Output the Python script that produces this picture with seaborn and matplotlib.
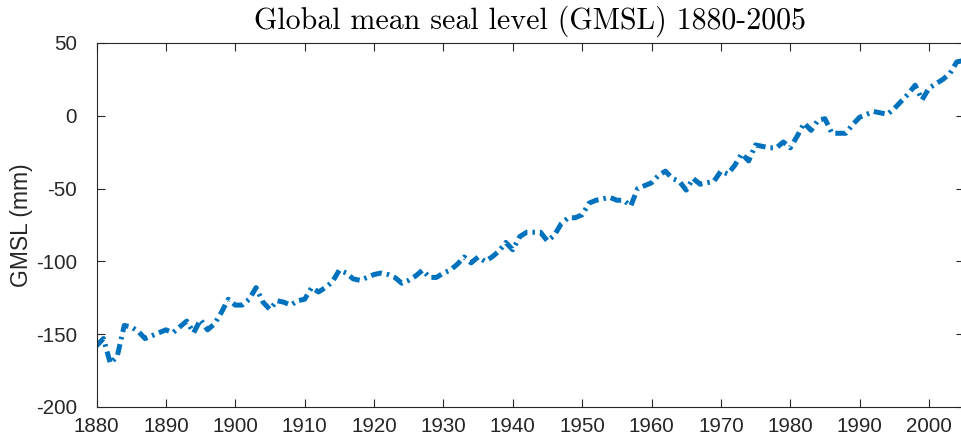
import numpy as np
import pandas as pd
import matplotlib
matplotlib.use("Agg")
import matplotlib.pyplot as plt
import seaborn as sns

# yearly GMSL values (mm)
years = np.arange(1880, 2006)
gmsl = [
    -158, -153, -170, -165, -144, -145, -148, -153, -151, -149,   # 1880s
    -147, -149, -145, -141, -149, -140, -147, -143, -135, -126,   # 1890s
    -130, -130, -126, -118, -128, -133, -127, -128, -130, -127,   # 1900s
    -126, -118, -121, -118, -114, -106, -108, -112, -113, -111,   # 1910s
    -109, -108, -109, -111, -115, -113, -110, -106, -111, -111,   # 1920s
    -108, -106, -102, -97, -101, -97, -100, -97, -93, -87,        # 1930s
    -92, -83, -80, -80, -80, -86, -82, -74, -70, -70,             # 1940s
    -68, -60, -58, -57, -56, -58, -58, -62, -50, -48,             # 1950s
    -46, -41, -38, -43, -45, -51, -43, -47, -46, -45,             # 1960s
    -38, -40, -34, -26, -31, -20, -21, -22, -22, -18,             # 1970s
    -22, -14, -5, -10, -3, -2, -12, -12, -12, -6,                 # 1980s
    -1, 1, 3, 2, 1, 5, 10, 15, 21, 11,                            # 1990s
    19, 22, 25, 29, 37, 38,                                       # 2000s
]
x_ticks = list(range(1880, 2001, 10))
y_ticks = [-200, -150, -100, -50, 0, 50]

df = pd.DataFrame({"year": years, "gmsl": gmsl})

sns.set_style("white")
plt.rcParams["font.family"] = ["Liberation Sans", "DejaVu Sans"]
plt.rcParams["axes.unicode_minus"] = False

W, H = 962, 441
fig = plt.figure(figsize=(W / 100, H / 100), dpi=100)
ax = fig.add_axes([96.5 / W, 34 / H, 867.2 / W, 364 / H])

sns.lineplot(data=df, x="year", y="gmsl", ax=ax, color="#0072BD",
             linewidth=3.6, linestyle="-.")
line = ax.lines[0]
line.set_dashes([2.2, 1.0, 0.5, 1.0])
line.set_dash_capstyle("butt")

ax.set_xlim(1880, 2005)
ax.set_ylim(-200, 50)
ax.set_xticks(x_ticks)
ax.set_yticks(y_ticks)
ax.set_xlabel("")
ax.set_ylabel("GMSL (mm)", fontsize=16.5, color="#262626")
ax.yaxis.set_label_coords(-0.073, 0.5)
ax.set_title("Global mean seal level (GMSL) 1880-2005", fontfamily="cmr10",
             fontsize=21.5, pad=10, color="black")

axis_col = "#262626"
for s in ax.spines.values():
    s.set_color(axis_col)
    s.set_linewidth(0.8)
    s.set_visible(True)
ax.tick_params(axis="both", which="major", direction="in", length=6,
               width=0.8, color=axis_col, labelcolor=axis_col,
               labelsize=14.8, top=True, right=True, bottom=True, left=True)
ax.tick_params(axis="y", pad=14)
ax.tick_params(axis="x", pad=7)

fig.savefig("out.png", dpi=100)
